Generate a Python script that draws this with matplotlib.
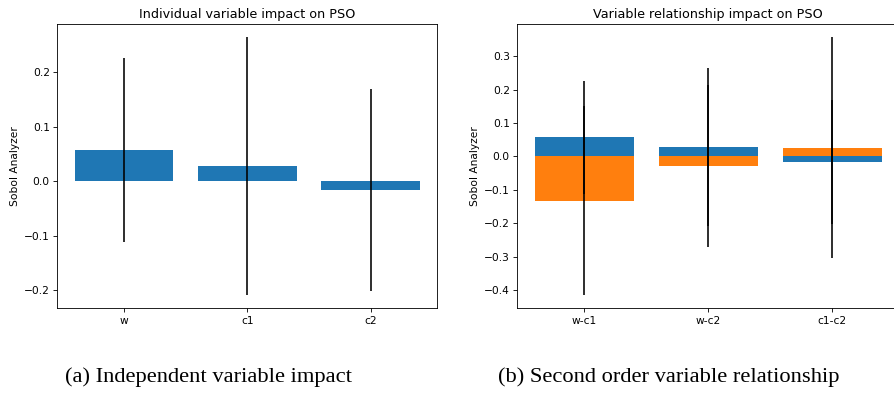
import numpy as np
import matplotlib
matplotlib.use("Agg")
import matplotlib.pyplot as plt

# first order Sobol indices (blue) with confidence
params = ['w', 'c1', 'c2']
s1 = [0.057, 0.0275, -0.016]
s1_conf = [0.168, 0.2365, 0.185]

# second order indices (orange) with confidence
pairs = ['w-c1', 'w-c2', 'c1-c2']
s2 = [-0.132, -0.028, 0.026]
s2_conf = [0.284, 0.242, 0.331]

scale = 0.767
plt.rcParams['font.family'] = 'DejaVu Sans'
plt.rcParams['font.size'] = 10 * scale
plt.rcParams['axes.linewidth'] = 0.8 * scale
plt.rcParams['xtick.major.width'] = 0.8 * scale
plt.rcParams['ytick.major.width'] = 0.8 * scale
plt.rcParams['xtick.major.size'] = 3.5 * scale
plt.rcParams['ytick.major.size'] = 3.5 * scale
plt.rcParams['xtick.major.pad'] = 3.5 * scale
plt.rcParams['ytick.major.pad'] = 3.5 * scale
plt.rcParams['axes.labelpad'] = 4 * scale
plt.rcParams['axes.titlepad'] = 6 * scale

W, H = 894, 394
fig = plt.figure(figsize=(W / 100, H / 100), dpi=100)


def px_axes(x0, x1, y0, y1):
    return fig.add_axes([x0 / W, (H - y1) / H, (x1 - x0) / W, (y1 - y0) / H])


ax1 = px_axes(57.3, 437.3, 24.3, 308.3)
ax2 = px_axes(517.3, 899.0, 24.3, 308.3)

x = np.arange(len(params))
ax1.bar(x, s1, yerr=s1_conf, color='#1f77b4', ecolor='black',
        error_kw=dict(elinewidth=1.5 * scale))
ax1.set_xticks(x)
ax1.set_xticklabels(params)
ax1.set_ylabel('Sobol Analyzer')
ax1.set_title('Individual variable impact on PSO', fontsize=12 * scale)

x2 = np.arange(len(pairs))
ax2.bar(x2, s1, yerr=s1_conf, color='#1f77b4', ecolor='black',
        error_kw=dict(elinewidth=1.5 * scale))
ax2.bar(x2, s2, yerr=s2_conf, color='#ff7f0e', ecolor='black',
        error_kw=dict(elinewidth=1.5 * scale))
ax2.set_xticks(x2)
ax2.set_xticklabels(pairs)
ax2.set_ylabel('Sobol Analyzer')
ax2.set_title('Variable relationship impact on PSO', fontsize=12 * scale)

cap_font = dict(family='Liberation Serif', fontsize=16.2, ha='center', va='baseline')
fig.text(208.5 / W, 1 - 382 / H, '(a) Independent variable impact', **cap_font)
fig.text(669 / W, 1 - 382 / H, '(b) Second order variable relationship', **cap_font)

fig.savefig('out.png', dpi=100)
